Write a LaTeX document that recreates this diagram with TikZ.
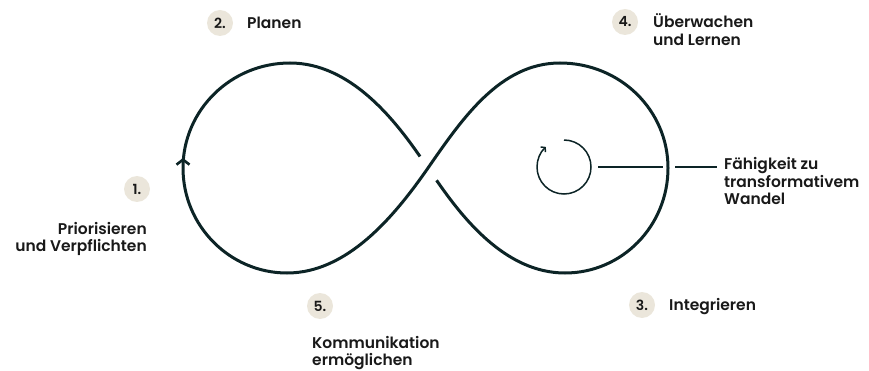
\documentclass[tikz,border=0pt]{standalone}
\usepackage{fontspec}
\setmainfont{Poppins}[UprightFont=* SemiBold]
\usetikzlibrary{arrows.meta}
\definecolor{ink}{RGB}{12,36,38}
\definecolor{badge}{RGB}{235,230,219}
\definecolor{txt}{RGB}{25,25,25}
\begin{document}
\begin{tikzpicture}[x=1pt,y=-1pt,
  loopline/.style={draw=ink,line width=3pt},
  badgenode/.style={circle,fill=badge,minimum size=26pt,inner sep=0pt,font=\fontsize{14}{17}\selectfont,text=txt},
  lbl/.style={inner sep=0pt,font=\fontsize{15.5}{17.5}\selectfont,text=txt},
  thinline/.style={draw=ink,line width=1.5pt}]
\useasboundingbox (0,0) rectangle (869,371);
% infinity loop
\coordinate (C) at (428,168);
\coordinate (TR) at (560,63);
\coordinate (RR) at (668,168);
\coordinate (BR) at (565,273);
\coordinate (BL) at (287,273);
\coordinate (LL) at (183,168);
\coordinate (TL) at (290,63);
\draw[loopline, shorten <=15pt, shorten >=14pt]
  (C) .. controls (462,217) and (505,273) .. (BR)
      .. controls (622,273) and (668,226) .. (RR)
      .. controls (668,110) and (620,63) .. (TR)
      .. controls (500,63) and (462,119) .. (C)
      .. controls (394,217) and (347,273) .. (BL)
      .. controls (230,273) and (183,226) .. (LL)
      .. controls (183,110) and (231,63) .. (TL)
      .. controls (350,63) and (394,119) .. (C);
\coordinate (A0) at (183,170);
\coordinate (A1) at (183,158);
\draw[draw=ink,line width=2.6pt,-{Straight Barb[length=5pt,width=13pt]}] (A0) -- (A1);
% rotation symbol
\coordinate (S0) at (564,140);
\draw[thinline,-{Straight Barb[length=3pt,width=7pt]}] (S0) arc[start angle=270, end angle=588, radius=27];
\coordinate (Sr) at (598,167);
\coordinate (G1) at (663,167);
\coordinate (G2) at (675,167);
\coordinate (Le) at (717,167);
\draw[thinline] (Sr) -- (G1);
\draw[thinline] (G2) -- (Le);
\node[lbl,anchor=base west] (cap) at (724,170) {\begin{tabular}[t]{@{}l@{}}Fähigkeit zu\\transformativem\\Wandel\end{tabular}};
% badges and labels
\node[badgenode] (n2) at (220,23) {2.};
\node[lbl,anchor=base west] (n2t) at (247,28.5) {Planen};
\node[badgenode] (n4) at (625,22) {4.};
\node[lbl,anchor=base west] (n4t) at (653,28) {\begin{tabular}[t]{@{}l@{}}Überwachen\\und Lernen\end{tabular}};
\node[badgenode] (n1) at (137,189) {1.};
\node[lbl,anchor=base east] (n1t) at (147,234) {\begin{tabular}[t]{@{}r@{}}Priorisieren\\und Verpflichten\end{tabular}};
\node[badgenode] (n5) at (320,306) {5.};
\node[lbl,anchor=base west] (n5t) at (312,348) {\begin{tabular}[t]{@{}l@{}}Kommunikation\\ermöglichen\end{tabular}};
\node[badgenode] (n3) at (642,305) {3.};
\node[lbl,anchor=base west] (n3t) at (669,310) {Integrieren};
\end{tikzpicture}
\end{document}
